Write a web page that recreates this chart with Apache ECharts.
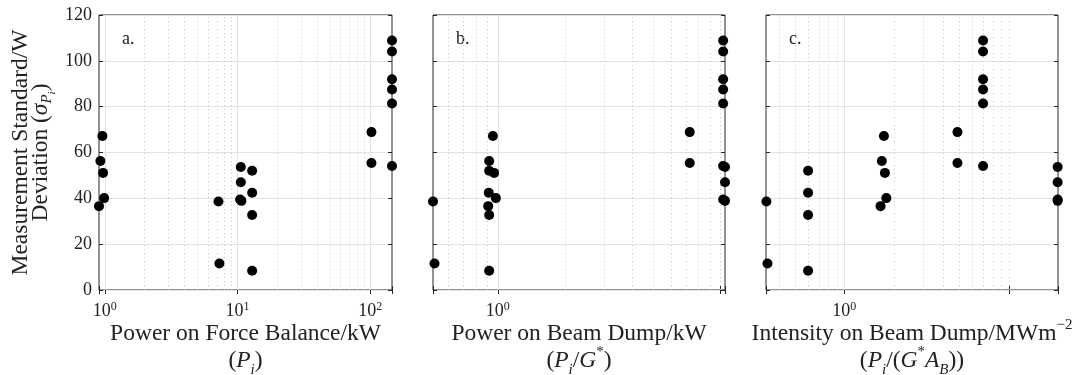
<!DOCTYPE html>
<html lang="en">
<head>
    <meta charset="UTF-8">
    <title>Measurement Standard Deviation</title>
    <style>
        html, body {
            margin: 0;
            padding: 0;
            background-color: #fff;
        }
        #chart {
            width: 1083px;
            height: 375px;
        }
    </style>
</head>
<body>
<div id="chart"></div>
<script src="https://cdn.jsdelivr.net/npm/echarts@6/dist/echarts.min.js"></script>
<script>
    // sigma_Pi, one value per measurement (same order in every panel)
    var sigma = [36.6, 56.3, 67.2, 51.1, 40.1, 38.6, 11.6, 53.7, 47.0, 39.5, 38.9, 52.0, 42.4, 32.7, 8.4,
        68.9, 55.4, 108.9, 104.1, 92.0, 87.5, 81.4, 54.1];
    // panel a: power on force balance, kW
    var powerForce = [0.905, 0.927, 0.960, 0.971, 0.989, 7.19, 7.31, 10.6, 10.6, 10.47, 10.71, 12.9, 12.9, 12.9, 12.9,
        102.2, 102.2, 146, 146, 146, 146, 146, 146];
    // panel b: power on beam dump, kW
    var powerDump = [0.905, 0.914, 0.950, 0.962, 0.980, 0.511, 0.519, 10.5, 10.5, 10.3, 10.5, 0.914, 0.910, 0.914, 0.914,
        7.29, 7.29, 10.3, 10.3, 10.3, 10.3, 10.3, 10.3];
    // panel c: intensity on beam dump, MW m^-2
    var intensityDump = [1.66, 1.69, 1.74, 1.765, 1.80, 0.336, 0.341, 19.8, 19.8, 19.8, 19.8, 0.602, 0.602, 0.602, 0.602,
        4.87, 4.87, 6.97, 6.97, 6.97, 6.97, 6.97, 6.97];

    var panelLetters = ['a.', 'b.', 'c.'];
    var xMin = [0.905, 0.511, 0.334];
    var xMax = [146, 10.5, 19.9];
    var majorX = [[1, 10, 100], [1], [1]];
    var minorX = [
        [2, 3, 4, 5, 6, 7, 8, 9, 20, 30, 40, 50, 60, 70, 80, 90],
        [0.6, 0.7, 0.8, 0.9, 2, 3, 4, 5, 6, 7, 8, 9, 10],
        [0.4, 0.5, 0.6, 0.7, 0.8, 0.9, 2, 3, 4, 5, 6, 7, 8, 9, 10]
    ];
    var yMin = 0, yMax = 120, yStep = 20;

    var font = 'Liberation Serif';
    var ink = '#222';
    var xNames = [
        'Power on Force Balance/kW\n({i|P}{sub|i})',
        'Power on Beam Dump/kW\n({i|P}{sub|i}/{i|G}{sup|*})',
        'Intensity on Beam Dump/MWm{sup|\u22122}\n({i|P}{sub|i}/({i|G}{sup|*}{i|A}{sub|B}))'
    ];
    var yName = 'Measurement Standard/W\nDeviation ({i|\u03c3}{sub|P}{sub2|i})';

    var mathRich = {
        i: {fontFamily: font, fontStyle: 'italic', fontSize: 23.5, color: ink},
        sub: {fontFamily: font, fontStyle: 'italic', fontSize: 15, color: ink, verticalAlign: 'bottom', padding: [0, 0, -4, 0]},
        sub2: {fontFamily: font, fontStyle: 'italic', fontSize: 11, color: ink, verticalAlign: 'bottom', padding: [0, 0, -7, 0]},
        sup: {fontFamily: font, fontSize: 15, color: ink, verticalAlign: 'top', padding: [-2, 0, 0, 0]}
    };

    var lefts = [99, 433, 766];
    var widths = [293, 292, 292];

    function expLabel(allowed) {
        return function (v) {
            var lg = Math.log10(v);
            var e = Math.round(lg);
            if (Math.abs(lg - e) > 1e-6) return '';
            var p = Math.pow(10, e);
            var ok = allowed.some(function (a) { return Math.abs(a - p) < 1e-9 * p; });
            return ok ? '{b|10}{s|' + e + '}' : '';
        };
    }

    var grids = [], xAxes = [], yAxes = [], series = [], graphics = [];

    for (var k = 0; k < 3; k++) {
        grids.push({
            left: lefts[k], top: 15, width: widths[k], height: 275,
            outerBoundsMode: 'none', containLabel: false,
            show: true, borderColor: '#262626', borderWidth: 1, backgroundColor: 'transparent'
        });
        xAxes.push({
            type: 'log', gridIndex: k, position: 'bottom', min: xMin[k], max: xMax[k],
            axisLine: {show: false},
            axisTick: {show: true, inside: true, length: 4, lineStyle: {color: '#262626'}},
            splitLine: {show: false},
            axisLabel: {
                show: true, interval: 0, hideOverlap: false, margin: 11,
                formatter: expLabel(majorX[k]),
                rich: {
                    b: {fontFamily: font, fontSize: 18, color: ink, lineHeight: 20},
                    s: {fontFamily: font, fontSize: 12, color: ink, verticalAlign: 'top', lineHeight: 12}
                }
            },
            name: xNames[k], nameLocation: 'middle', nameGap: 30, nameMoveOverlap: false,
            nameTextStyle: {fontFamily: font, fontSize: 23.5, color: ink, lineHeight: 27, rich: mathRich}
        });
        xAxes.push({
            type: 'log', gridIndex: k, position: 'top', min: xMin[k], max: xMax[k],
            axisLine: {show: false},
            axisTick: {show: true, inside: true, length: 4, lineStyle: {color: '#262626'}},
            splitLine: {show: false},
            axisLabel: {show: false}
        });
        yAxes.push({
            type: 'value', gridIndex: k, position: 'left', min: yMin, max: yMax, interval: yStep,
            axisLine: {show: false},
            axisTick: {show: true, inside: true, length: 4, lineStyle: {color: '#262626'}},
            splitLine: {show: true, lineStyle: {color: '#e2e2e2', width: 1}},
            axisLabel: {show: k === 0, margin: 7, fontFamily: font, fontSize: 18, color: ink},
            name: k === 0 ? yName : '', nameLocation: 'middle', nameRotate: 90, nameGap: 48, nameMoveOverlap: false,
            nameTextStyle: {fontFamily: font, fontSize: 23.5, color: ink, lineHeight: 20, rich: mathRich}
        });
        yAxes.push({
            type: 'value', gridIndex: k, position: 'right', min: yMin, max: yMax, interval: yStep,
            axisLine: {show: false},
            axisTick: {show: true, inside: true, length: 4, lineStyle: {color: '#262626'}},
            splitLine: {show: false},
            axisLabel: {show: false}
        });

        var gridData = [];
        majorX[k].forEach(function (v) {
            gridData.push({xAxis: v, lineStyle: {type: 'solid', color: '#e2e2e2', width: 1}});
        });
        minorX[k].forEach(function (v) {
            gridData.push({xAxis: v, lineStyle: {type: [1, 3], color: '#c8c8c8', width: 1}});
        });
        series.push({
            type: 'scatter', xAxisIndex: 2 * k, yAxisIndex: 2 * k, data: [], z: 1,
            silent: true,
            markLine: {
                silent: true, symbol: ['none', 'none'], animation: false,
                label: {show: false}, data: gridData
            }
        });

        var xs = [powerForce, powerDump, intensityDump][k];
        var pts = xs.map(function (x, i) { return [x, sigma[i]]; });
        series.push({
            type: 'scatter', xAxisIndex: 2 * k, yAxisIndex: 2 * k, data: pts, z: 5,
            symbol: 'circle', symbolSize: 10, clip: false,
            itemStyle: {color: '#000', opacity: 1}
        });

        graphics.push({
            type: 'text', left: lefts[k] + 23, top: 30, silent: true,
            style: {text: panelLetters[k], fontFamily: font, fontSize: 18, fill: ink}
        });
    }

    var myChart = echarts.init(document.getElementById('chart'), null, {renderer: 'canvas'});
    myChart.setOption({
        animation: false,
        backgroundColor: '#fff',
        grid: grids,
        xAxis: xAxes,
        yAxis: yAxes,
        series: series,
        graphic: graphics
    });
</script>
</body>
</html>
